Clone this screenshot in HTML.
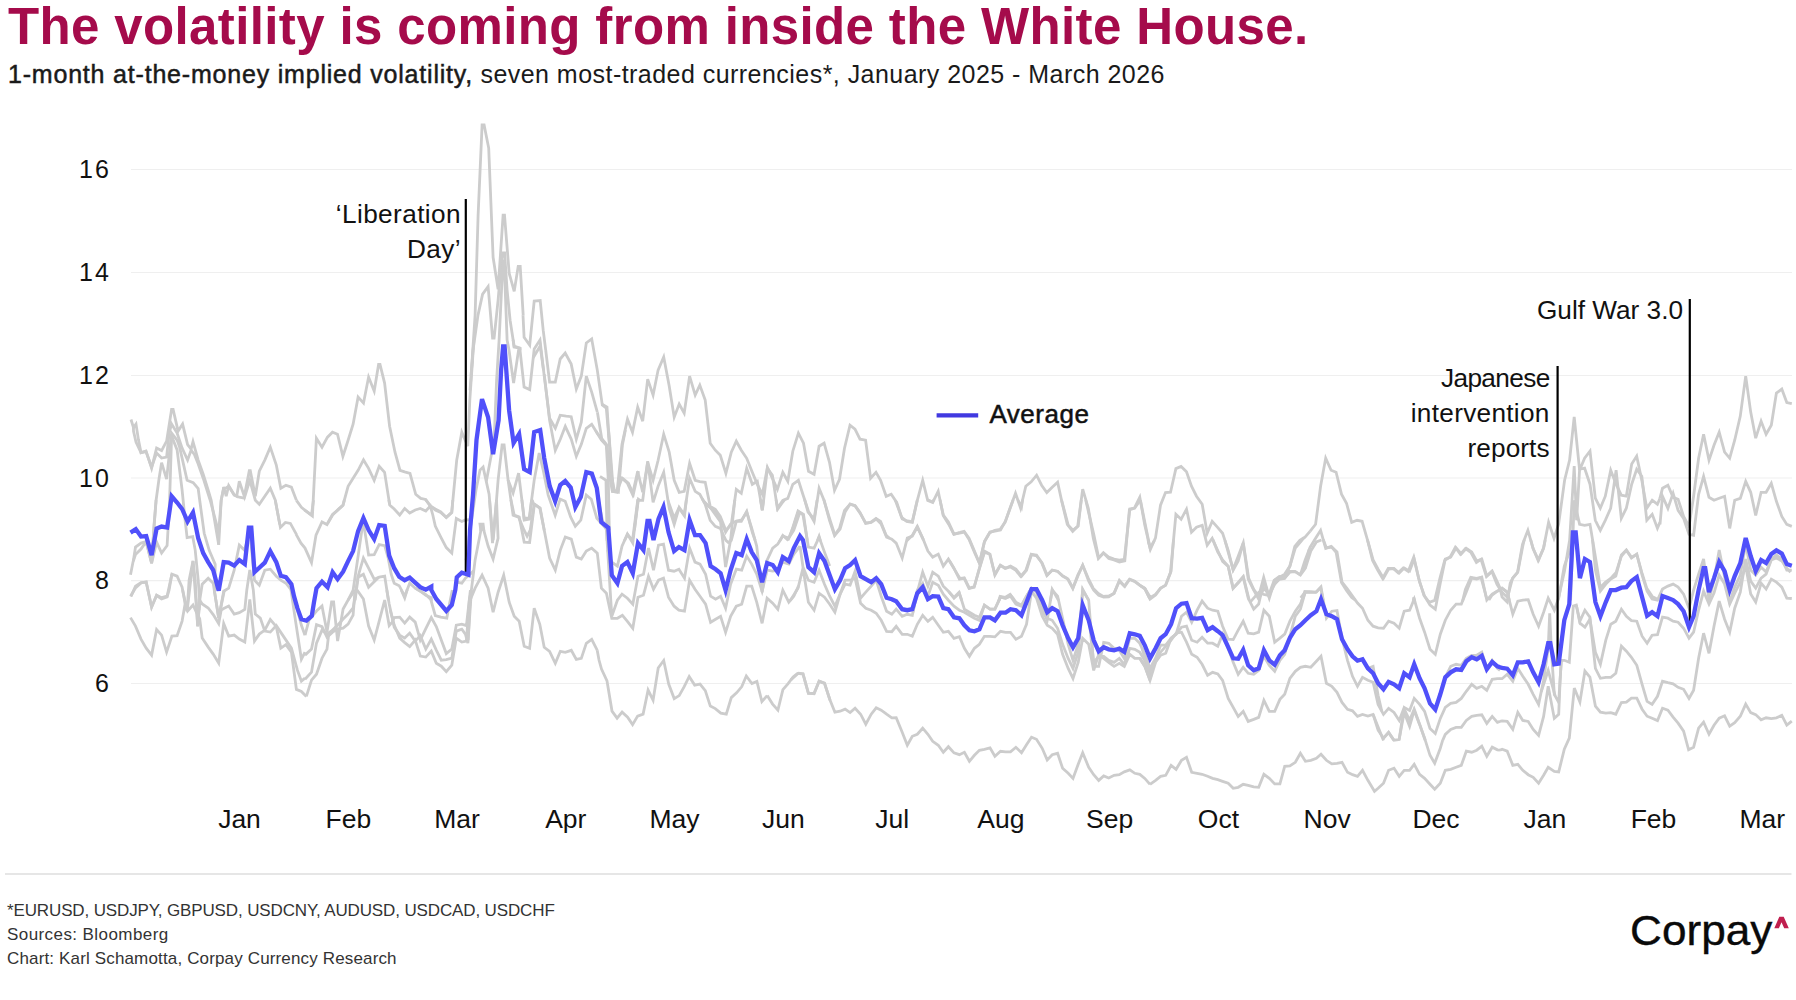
<!DOCTYPE html>
<html><head><meta charset="utf-8">
<style>
html,body{margin:0;padding:0;background:#fff;overflow:hidden;width:1796px;height:1000px;}
body{width:1796px;height:1000px;position:relative;overflow:hidden;font-family:"Liberation Sans",sans-serif;color:#111;}
.abs{position:absolute;white-space:nowrap;line-height:1;}
#title{left:8px;top:0.5px;font-size:51px;font-weight:bold;color:#a50b4b;letter-spacing:0.37px;}
#sub{left:8px;top:61.5px;font-size:25px;color:#1a1a1a;letter-spacing:0.46px;}
#sub b{font-weight:normal;-webkit-text-stroke:0.5px #1a1a1a;letter-spacing:0.8px;}
.yl{width:60px;text-align:right;left:50.8px;font-size:25px;letter-spacing:2px;}
.xl{width:100px;text-align:center;font-size:26.5px;top:805.5px;margin-left:1px;}
.ann{text-align:right;font-size:26.2px;line-height:35px;}
.foot{left:7px;font-size:17px;color:#333;}
#logo{left:1629.5px;top:910.2px;font-size:42px;color:#0a0a0a;letter-spacing:0;transform:scaleX(1.052);transform-origin:0 0;-webkit-text-stroke:0.35px #0a0a0a;}
svg{position:absolute;left:0;top:0;}
</style></head><body>
<div id="title" class="abs">The volatility is coming from inside the White House.</div>
<div id="sub" class="abs"><b>1-month at-the-money implied volatility,</b> seven most-traded currencies*, January 2025 - March 2026</div>

<svg width="1796" height="1000" viewBox="0 0 1796 1000">
<g stroke="#efefef" stroke-width="1.2">
<line x1="131" x2="1792" y1="169.5" y2="169.5"/>
<line x1="131" x2="1792" y1="272.5" y2="272.5"/>
<line x1="131" x2="1792" y1="375.5" y2="375.5"/>
<line x1="131" x2="1792" y1="478" y2="478"/>
<line x1="131" x2="1792" y1="580.7" y2="580.7"/>
<line x1="131" x2="1792" y1="683.5" y2="683.5"/>
</g>
<line x1="5" x2="1791.5" y1="874" y2="874" stroke="#dedede" stroke-width="1.3"/>
<g fill="none" stroke="#cccccc" stroke-width="2.8" stroke-linejoin="miter" stroke-linecap="butt">
<polyline points="131,419.5 133.5,427.6 136,424.1 138.5,440.1 141,452.6 146,451.1 151.6,468.2 156.6,448.1 161.6,450.6 166.6,441.1 171.6,409.5 173.1,409.5 178.1,431.1 182.6,424.1 187.6,444.6 191.1,449.1 193,441.6 198.2,460.1 203.2,474.2 208.2,490.2 211.2,500.2 218.7,544.8"/>
<polyline points="133.5,427.6 133.5,431.1 136,442.1 141,452.6 146,451.6 151.6,467.1 156.6,453.1 161.6,458.1 166.6,457.1 169.1,433.1 171.6,424.1 177.1,433.1 182.1,448.1 187.6,460.1 191.1,450.1 194.2,454.1 198.2,464.1 203.2,478.2 208.2,494.2 210.2,500.2 218.7,532.3"/>
<polyline points="151.6,563.4 154.1,525.3 156.1,500.2 159.1,478.2 161.6,462.6 166.6,479.2 169.1,456.1 171.6,433.1 177.1,440.1 179.6,447.1 182.1,458.1 187.1,480.2 193.2,482.7 198.2,488.7 199.7,500.2 204.2,533.3 209.2,550.3 215.2,564.4 214.8,591"/>
<polyline points="133.3,561.1 135.5,547.1 141,543.1 146.2,541.6 151.6,563.1 154.1,525.1 156.1,500.1"/>
<polyline points="130.5,574.7 133,562.1 135.5,554.6 141,549.1 145,543.1 146.2,542.1 151.6,563.1 156.6,542.1 161.6,553.1 167.1,545.6 168.6,520 169.6,500 171.6,435.9"/>
<polyline points="171.6,435.9 177.1,449.9 182.1,490 185.1,520 187.1,537.6 192.7,536.6 195.2,550.1 198.2,580.2 199.7,600.2 199,610"/>
<polyline points="131,596.5 135.5,586.2 141,582.7 146.2,582.2 151.6,607.2 156.6,595.2 161.6,597.7 167.1,596.2 171.9,574.2 177.1,576.2 182.1,587.2 185.1,603.2 187.1,611.2 189.1,580.2 193,561.1 195.2,580.2 197.7,626.3 199.7,600.2 202.2,584.2 208.2,578.2 213.2,583.2 218.7,618.3 223.7,591.2 228.7,588.2 234.2,570.2 239.3,545.1 244.3,550.1 246.8,542.1 249.8,530.1 254.5,580.2 259.3,585.2 264.8,570.2 270.3,569.2 276.3,576.2 280.8,580.2 285.9,583.2 291.4,590.2 296.4,606.2 301.4,625.3 305,635.3"/>
<polyline points="218.7,544.8 221.2,500.2 223.7,487.2 226.2,496.2 228.7,485.7 234.2,494.7 236.7,496.2 239.3,481.2 244.3,496.2 249.3,470.7 250.3,470.7 255.3,496.2 259.3,471.2 264.8,460.1 270.3,447.1 276.3,465.1 280.8,488.2 285.9,485.2 291.4,487.2 296.4,500.2"/>
<polyline points="218.7,532.3 221.2,500.2 223.7,488.2 225.7,488.2 228.7,486.2 234.2,495.2 239.3,497.2 244.3,498.2 246.8,490.2 249.8,480.2 255.3,500.2 259.3,504.2 264.8,496.2 270.3,488.2 275.3,500.2 279.8,524.5"/>
<polyline points="130.5,617.6 135.5,626.1 141,639.1 146.2,648.1 151.6,655.1 156.6,629.6 161.6,635.1 166.6,652.1 171.9,636.1 177.1,635.6 182.1,621.1 185.1,604 187.6,611 193,605 196.2,612 199.7,618.6 202.2,638.1 208.2,647.1 213.2,654.1 218.7,663.2 223.7,623.6 228.7,636.1 234.2,635.1 239.3,639.1 244.8,642.1 249.8,599.5 254.5,641.1 259.3,634.1 264.8,630.1 270.3,619.6 276.3,626.6 280.8,648.1 285.9,644.6 291.4,652.1 296.4,689.4 301.4,691.4 306.4,696.4"/>
<polyline points="130.5,596.2 135.5,588 141,583 146.2,582 151.6,607 156.6,595.5 161.6,599 167.1,597 169.1,590 171.9,574"/>
<polyline points="182.6,589.9 187.1,611 193,560.9 197.7,626.1 199.7,600 202.2,604 208.2,608 213.2,614.6 218.7,623.6 221.2,610 223.7,608.5 228.7,606 234.2,614.1 239.3,612.6 244.8,609.5 246.8,590 249.8,570 253.3,590 255.3,614.1 260.3,618.1 264.8,631.1 270.3,632.1 276.3,625.6 281.3,633.1 291.4,648.1 297.4,670.2 301.4,681.2 305,678.2"/>
<polyline points="214.3,590.1 218.7,618.1 224.2,590.9"/>
<polyline points="290.9,589.6 295.4,620.1 301.4,659.2 305,652.1"/>
<polyline points="304.4,509.8 311.5,515 313.5,500"/>
<polyline points="296,534.1 301,543.1 305,548.1 311.5,562.6 316,535.1 322,522 327,524.6 332.6,515 337.6,510 343.1,505 344.4,499.8"/>
<polyline points="388.9,499.9 389.7,505 394.2,509 399.7,515 404.7,508.5 409.7,513 415.2,510 420.3,508.5 425.8,511 430.3,506 432.8,515 435.3,526.1 440.8,537.1 446.3,547.6 451.8,553.1 456.3,518.5 461.8,521.5 465.4,520 471.6,519.6"/>
<polyline points="425.4,499.3 430.3,506 435.3,509 440.8,512 446.3,517.5 451.8,512.5 452.8,500"/>
<polyline points="348.1,600.2 353.1,590.2 358.1,556.1 362.6,525.1 363.4,523.1 366.1,539.1 368.6,555.1 374.2,554.6 379.2,544.6 384.7,545.6 388.2,558.1 391.2,574.2 394.2,583.2 399.2,585.7 404.7,596.2 409.7,583.2 415.2,588.2 420.3,591.2 425.8,595.2 431.3,597.7 431.3,601.3"/>
<polyline points="354.3,600.3 358.1,576.2 363.4,558.1 368.6,568.2 374.2,579.2 379.2,577.2 384.7,576.2 387.2,592.2 388.4,600.4"/>
<polyline points="355.1,600.2 358.1,577.2 363.4,574.2 368.6,587.2 374.2,581.7 378.5,577.5"/>
<polyline points="456.8,582.2 461.8,583.2 465.4,578.2 473.8,570.9"/>
<polyline points="305,635.1 309,620.1 316.5,611 322,606 327,632.1 331.6,602 333.6,602 337.6,641.1 343.1,609 348.1,600 355.1,590"/>
<polyline points="305,655.1 311.5,649.1 316.5,624.6 322,626.6 327,637.1 332.6,632.1 337.6,629.1 343.1,628.1 348.1,624.1 353.1,615.1 355.1,590"/>
<polyline points="305,679.2 311.5,672.2 316.5,643.1 322,630.1 327,634.1 332.6,630.1 337.6,625.1 343.1,619.1 348.1,614.1 353.1,608 356.4,589.9"/>
<polyline points="306.4,696.4 311.5,680.2 316.5,674.2 322,658.2 327,649.1 328.6,635.1 332.6,630.1"/>
<polyline points="357.1,590 363.4,599 368.6,626.1 374.2,640.1 379.2,621.1 384.7,600 386.2,609 389.2,625.6 392.2,622.1 394.2,617.6 399.7,617.1 404.7,623.1 409.7,617.1 415.2,622.1 420.3,640.1 425.8,628.6 431.3,617.6 436.3,626.6 446.3,653.6 451.8,649.1 456.3,625.1 461.8,624.1 466.4,625.6 470.4,590.1"/>
<polyline points="386.8,589.9 389.2,604 394.2,627.1 399.7,635.1 404.7,638.1 409.7,633.1 415.2,641.1 420.3,635.6 425.8,649.1 431.3,639.1 436.3,650.1 441.3,660.2 446.3,659.7 451.8,658.2 456.3,631.1 461.8,629.1 465.4,634.1 467.9,643.1 471.4,590.1"/>
<polyline points="390.2,610 394.2,625.1 399.7,638.1 404.7,642.6 409.7,646.6 415.2,640.1 420.3,656.1 425.8,657.1 431.3,651.1 436.3,663.2 441.3,666.2 446.3,671.7 451.8,665.2 456.3,638.1 461.8,642.1 466.4,641.1 469.4,600 471.4,590"/>
<polyline points="401.2,590 404.7,598 407.2,589.6"/>
<polyline points="415.2,588 420.3,591 425.8,594.5 430.8,599.5 435.3,615.6 440.8,617.1 446.8,618.1 449.3,605 452.3,590"/>
<polyline points="296.4,500.4 301.4,507.4 306.4,511.4 312.4,516 316.4,438.2 322,447.2 327.5,437.2 332.5,432.2 337.5,434.2 342.9,456.3 348.1,440.2 353.1,424.2 358.1,397.1 363.5,403.1 368.6,377.1 374.2,391.1 378.6,364.5 380,364.5 384.6,383.1 389.6,426.2 395,452.2 400,470.3 404.6,471.9 410,473.3 415.7,494.3 420.7,498.4 425.7,499.4 430.7,506.4 435.7,510.4 440.7,512.4 446.3,517.4 451.7,512.4 456.7,460.3 461.8,432.2 465.2,440.2 467.8,446.2"/>
<polyline points="275.3,500.4 280.4,527.4 285.4,522.4 290.4,523.4 296.4,534.4"/>
<polyline points="327.5,523.4 332.5,514.4 337.5,510.4 342.9,505.4 348.1,486.3 353.1,478.3 358.1,470.3 363.5,459.9 368.6,468.3 374.2,480.3 379.2,466.3 384.6,472.3 389.6,504.4"/>
<polyline points="467.8,446.2 469.8,400.1 473.9,340.1"/>
<polyline points="471.1,375.5 475.1,315.4 478.1,215.2 482.1,125 484.1,125 488.7,148.1 493.1,257.3 498.1,289.4 503.1,215.2 504.5,215.2 509.2,273.4 514.2,291.4 518.2,266.3 520.2,266.3 523.2,315.4"/>
<polyline points="523,315.3 524.1,337.2 529.7,345.2 534.2,301.1 540.2,300.6 543.2,330.2 545.7,350.2"/>
<polyline points="470,390.3 473,350.2 478,315.1 482.6,294.1 488.1,286.6 492.6,338.2 494.1,338.2 498.1,300.1 501.1,265 502.6,253 504.6,253 507.1,290.1 510.1,320.2 514.1,346.2 520.1,348.2 520,350.3"/>
<polyline points="513.1,339.7 514.1,347 519.8,348.2 524.1,387.1 529.7,389.6 534.2,349 540,340 544,374.1 549.6,418.2 555.3,428.2 560.2,415.2 566.2,416.2 571.2,416.7 576.3,439.2 581.3,422.2 586.3,376.1 591.7,392.1 597.3,412.2"/>
<polyline points="545.7,350 549.6,382.1 555.3,382.1 560.2,359 565.2,353 571.2,364.1 576.3,389.1 581.3,376.1 586.3,343 591.7,339 597.3,370.1 602.3,405.1 606.3,408.2 609.6,446.2"/>
<polyline points="486.3,481.6 494.1,440.2 496.6,380.1 499.1,340 501.3,294.9 502.9,261 504.1,261 505.6,299.9 507.1,340 509,350 513.6,383.1 518.6,350 519.8,348.2"/>
<polyline points="533.2,357.8 540.2,346 543.5,370.1"/>
<polyline points="466,560.3 470,530.2 476,490.1 480,470.1 483.1,467.1 489.1,494.1 492.1,530.2 493.1,540.2 494.1,530.2 498.1,480.1 502.1,445 504.1,445 508.1,480.1 513.1,493.1 518.6,473.1 524.1,518.2 529.2,518.2 534.2,480.1 539.2,453.1 543.2,470.1 548.2,495.1 555.2,515.2 560.2,499.2 565.2,501.2 570.7,517.2 575.3,526.2 580.8,520.2 586.3,495.1 591.3,499.2 596.8,518.2 605.6,528.1"/>
<polyline points="480.8,530.9 480,524.2 483.1,524.2 483.9,530.8"/>
<polyline points="508.1,480.1 513.1,515.2 518.6,517.2 524.1,530.2 527.1,536.2 530.2,530.2 534.2,504.2 540.2,508.2 544.3,530.4"/>
<polyline points="544.2,374.2 549.6,420.3 555.3,450.4 560.3,439.3 565.3,426.3 571.3,439.3 576.3,456.4 581.3,444.3 586.3,428.3 591.7,424.3 597.3,433.3 602.4,439.3 606.4,444.3 610.4,470.4 614.4,490.4"/>
<polyline points="595.8,430.9 601.3,440 606.3,445 608.3,480.1 609.3,530.3"/>
<polyline points="608.6,430.2 613.3,490.1 618.4,492.1 622.4,445 625.4,430"/>
<polyline points="618.2,480.3 622.4,478.1 628.4,483.1 633.4,494.1 638.4,471.1 638,472.6"/>
<polyline points="634.4,530.2 638.4,499.2 640,500.4"/>
<polyline points="467.1,640.3 470.1,600.2 475.1,588.2 482.1,575.2 488.1,588.2 493.1,612.2 498.1,592.2 503.7,575.2 509.2,602.2 514.2,616.3 519.2,621.3 524.2,646.3 529.6,648.3 534.2,608.2 539.8,624.3 544.2,647.3 549.6,651.3 555.3,663.4 560.3,651.3 565.3,652.3 571.3,650.3 576.3,659.4 581.3,658.4 586.3,643.3 591.7,639.3 597.3,650.3"/>
<polyline points="597.2,650.3 599,660 601.5,669 607,681 612,711.1 617.1,718.1 622.1,712.1 627.6,717.1 632.6,724.6 637.6,716.1 643.1,714.1 648.1,690.1 653.1,700.1 658.2,668 663.7,660.5 668.7,684.1 674.2,698.6 679.2,695.6 684.2,686.6 689.2,676.5 694.7,685.1 700,684.1 705.3,690.6 710.3,706.1 715.3,708.6 720.8,713.1 726.3,714.1 731.3,697.6 736.8,692.6 741.8,686.6 746.3,676 751.9,683.6 756.9,681.5 761.9,701.6 767.2,695.6"/>
<polyline points="767.2,695.6 772.6,704.1 777.9,710.1 782.9,689.6 788.1,683.6 793.1,677 798.1,673"/>
<polyline points="468.1,640.3 470.1,600.2 475.1,560.1 482.1,524.1 488.1,546.1 493.1,559.1 498.1,538.1 496.5,499.8"/>
<polyline points="489.6,500 492.5,543.1 496.5,500.1"/>
<polyline points="510.9,499.8 514.2,515 519.2,517 524.2,542.1 529.6,542.5 534.2,506 532.2,500"/>
<polyline points="521.9,499.8 524.2,520 529.6,519 531.6,499.9"/>
<polyline points="534.2,504 539.8,508 544.2,530.1 549.6,558.1 555.3,570.2 560.3,550.1 565.3,537.1 571.3,539.1 576.3,557.1 581.3,559.1 586.3,551.1 591.7,548.1 597.3,553.1 601.4,588.2 606.4,593.2 611.8,618.3 617.4,618.3 622.4,615.3 627.4,621.3 632.8,628.3 638,597.2 643.5,595.2 648.5,576.2 653.5,589.2 658.5,580.2 663.5,578.2 668.5,597.2 674.1,606.2 678.9,610.2 684.5,611.2 689.6,580.2 695,589.2 700,596.2 705.6,604.2 710.6,622.3 715.6,619.3 720.6,616.3 725.6,632.3 730.6,616.3 736.3,606.2 741.7,604.2 746.7,586.2 751.7,586.2 756.7,602.2 762.1,623.3 767.1,598.2 772.7,603.2 777.8,609.2 782.8,590.2 788.8,602.2 793.8,596.2 798.6,585.8"/>
<polyline points="598.4,500 602.4,520 606.4,530.1 611.8,616.3 617.4,600.2 622,594.2 627.4,598.2 632.8,604.2 638,576.2 643.5,574.2 648.5,548.1 653.5,570.2 658.5,545.1 663.5,544.1 668.5,570.2 674.1,571.2 678.9,569.2 684.5,578.2 689.6,548.1 695,562.1 700,564.1 705.6,574.2 710.6,596.2 715.6,599.2 720.6,596.2 725.6,608.2 730.6,584.2 736.3,569.2 741.7,570.2 746.7,556.1 751.7,564.1 756.7,574.2 762.1,591.2 767.1,570.2 772.7,571.2 777.8,570.2 782.8,562.1 788.8,564.1 793.8,554.1 800,546.1"/>
<polyline points="607.7,550.1 611.8,562.1 617.4,566.1 622,546.1 627.4,534.1 632.8,543.1 638,500"/>
<polyline points="667.9,500.1 674.1,518 678.9,508 684.5,516 686.4,499.5"/>
<polyline points="702.2,498.8 705.6,504 710.6,508 715.6,512 720.6,520 725.6,532.1 730.6,524.1 736.3,521 741.7,520 746.7,512 751.7,528.1 756.7,546.1 762.1,592.2 767.1,560.1 772.7,548.1 777.8,544.1 782.8,536.1 788.8,538.1 793.8,530.1 800,512"/>
<polyline points="703.5,501.1 710.6,508 720.6,522 725.6,567.1 730.6,540.1 734.8,499.8"/>
<polyline points="760.5,499.7 762.1,510 763.7,499.8"/>
<polyline points="776.1,499.8 777.8,509 782.8,502 784.7,499.7"/>
<polyline points="602,404.1 607,407.1 610,452.2 612.4,491.3 617,492.3 622,444.2 627.5,419.2 632.5,432.2 637.7,407.1 642.7,421.2 647.7,379.1 653.1,395.1 658.1,370.1 663.7,357 669.2,386.1 674.2,417.2 679.2,404.1 684.2,413.2 689.6,376.1 695.2,395.1 699.8,385.1 705.2,400.1 710.2,443.2 715.3,450.2 720.3,455.3 725.9,473.3 731.3,452.2 736.3,441.2 741.3,450.2 746.7,458.3 752.3,472.3 757.3,484.3 762.4,494.3 767.4,467.3 772.4,478.3 777.4,489.3 782.8,472.3 787.8,481.3 792.8,451.2 798.4,433.2 803.5,443.2 808.5,471.3 814.1,474.3 819.1,446.2 824.1,443.2 829.5,462.3 834.5,490.3 839.5,479.3 844.5,448.2 850,425.2 855,429.2 860,439.2 865.6,440.2 870.6,478.3 876,472.3 880.6,480.3 886.2,496.3 891.2,494.3 896.7,502.4 901.7,517.4 906.7,521.4 912.3,522.4 917.3,500.4 922.7,480.3 927.7,500.4 932.7,502.4 938.2,491.3 943.2,515.4 948.8,524.4 953.8,534.4 960,532.4"/>
<polyline points="597.4,412.2 602,440.2 607,446.2 610,478.3 612.4,491.3 617,491.3 622,478.3 627.5,483.3 632.5,494.3 637.7,471.3 642.7,492.3 647.7,462.3 653.1,480.3 658.1,460.3 663.7,434.2 669.2,452.2 674.2,480.3 679.2,492.3 684.2,491.3 689.6,463.3 695.2,480.3 699.8,481.7 705.2,482.3 710.2,506.4 715.3,509.4 720.3,516.4 725.9,530.4 731.3,524.4 736.3,489.3 741.3,493.3 746.7,468.3 752.3,484.3 757.3,481.3 762.4,510.4 767.4,468.3 772.4,475.3 777.4,508.4 782.8,500.4 787.8,498.4 792.8,484.3 798.4,480.3 803.5,496.3 808.5,511.4 814.1,521.4 819.1,488.3 824.1,500.4 829.5,520.4 834.5,535.4 839.5,528.4 844.5,510.4 850,504.4 855,505.4 860,512.4 865.6,523.4 870.6,522.4 876,518.4 880.6,521.4 886.2,535.4 889.4,538.2"/>
<polyline points="600,476.3 606,480.3 607.1,540.6"/>
<polyline points="624.5,540.6 627.5,534.4 632.5,540.4 637.7,500.4 642.7,500.4 647.7,461.3 653.1,502.4 658.1,486.3 663.7,472.3 669.2,508.4 674.2,524.4 679.2,507.4 684.2,514.4 689.6,478.3 695.2,491.3 699.8,494.3 705.2,504.4 710.2,520.4 715.3,526.4 720.3,528.4 725.9,540.4 728.3,542.4 731.3,540.4 736.3,521.4 741.3,521.4 746.7,511.4 752.3,532.4 755.1,540.2"/>
<polyline points="779.4,541.6 782.8,535.4 788.4,540.4"/>
<polyline points="787.8,540.4 792.8,528.4 798.4,511.4 803.5,514.4 807.3,540.6"/>
<polyline points="817.4,540.8 819.1,536.4 820.5,541.1"/>
<polyline points="906.6,540.9 912.3,535.4 917.3,526.4 923.5,540.1"/>
<polyline points="804.5,499.2 808,512 814.1,519 817.1,500"/>
<polyline points="823.8,499.7 829.7,519 834.9,535.1 840.1,529.1 845.1,512 850.1,504 855.1,506 860.6,514 865.8,523.1 871.2,522.4 876.2,519 881.2,524.1 886.6,537.1 891.8,539.1 896.2,543.1 902.2,558.1 907.3,538.1 912.3,536.1 917.3,527.1 922.7,538.1 927.9,551.1 932.7,557.1 938.3,554.1 943.3,566.1 948.4,559.1 954,568.2 959.4,579.2 964.4,578.2 969.4,588.2 974.4,586.2 979.4,568.2 984.4,551.1 990,554.1 994.9,575.2 1000.5,565.1 1005.5,568.2 1010.5,566.1 1015.9,569.2 1021.5,576.2 1026.5,570.2 1031.5,554.5 1036.5,555.1 1042.2,563.1 1047.2,575.2 1052.2,570.2 1057.6,571.2 1062.6,576.2 1068.2,579.2 1073,588.2 1078.2,575.2 1082.7,565.1 1088.7,581.2 1093.7,590.2 1098.7,595.2 1103.7,597.2 1108.7,596.8 1114.1,593.2 1119.3,581.2 1124.3,586.2 1129.8,579.2 1134.8,581.2 1139.8,585.2 1144.8,588.2 1149.6,598.4"/>
<polyline points="895.4,500.5 902.2,519 907.3,521 912.3,521.6 917.3,500"/>
<polyline points="927.5,499.7 932.7,502 934,499.8"/>
<polyline points="940,499.9 943.3,515 948.4,522 954,534.1 959.4,533.1 964.4,532.1 969.4,540.1 974.4,552.1 979.4,563.1 984.4,542.1 990,532.1 994.9,531.1 1000.5,530.1 1005.5,521 1010.5,507 1013.1,499.9"/>
<polyline points="1017.9,500.2 1021.5,507 1022.6,499.8"/>
<polyline points="1061.5,499.8 1068.2,525.1 1073,530.1 1078.2,526.1 1081.3,499.8"/>
<polyline points="1085.7,500 1093.7,534.1 1098.7,558.1 1103.7,553.1 1108.7,557.1 1114.1,559.1 1119.3,560.1 1124.3,559.5 1129.8,509 1134.8,508 1140.3,499.9"/>
<polyline points="1140.4,500.4 1149.7,546.2"/>
<polyline points="790.6,534.3 798,511 803,515 808.4,547.1 814.1,548.1 819.1,537.1 824.5,552.1 829.7,566.1"/>
<polyline points="800,546.1 803,567.1 808.4,580.2 814.1,582.2 819.1,570.2 824.5,584.2 829.7,596.2 834.9,606.2 840.1,594.2 845.1,584.2 850.1,585.2 855.1,571.2 860.6,598.2 865.8,592.2 871.2,586.2 876.2,580.2 881.2,596.2 886.6,611.2 891.8,614.3 896.2,609.2 902.2,616.3 907.3,614.3 912.3,615.3 917.3,592.2 922.7,572.2 927.9,586.2 932.7,572.2 938.3,576.2 943.3,586.2 948.4,591.2 954,598.2 959.4,593.2 964.4,609.2 969.4,612.2 974.4,615.3 979.4,617.3 984.4,605.2 990,609.2 994.9,609.2 1000.5,597.2 1005.5,598.2 1010.5,595.2 1015.9,602.2 1021.5,605.2 1026.5,596.2 1031.5,588.2 1036.5,590.2 1042.2,608.2 1047.2,620.3 1052.2,590.2 1057.6,596.2 1062.6,618.3 1068.2,644.3 1073,660.4 1078.2,644.3 1082.7,590.2 1088.7,600.2 1093.7,666.4 1098.7,666.4 1103.7,642.3 1108.7,643.3 1114.1,648.3 1119.3,650.3 1124.3,658.4 1129.8,638.3 1134.8,638.3 1139.8,643.3 1144.8,654.3 1150.8,670.8"/>
<polyline points="790.3,600.4 798,588.2 803,568.2 808.4,602.2 814.1,610.2 819.1,593.2 824.5,597.2 829.7,604.2 834.9,612.2 840.1,594.2 845.1,580.2 850.1,580.2 855.1,578.2 860.6,603.2 865.8,608.2 871.2,610.2 876.2,613.3 881.2,620.3 886.6,631.3 891.8,631.7 896.2,626.3 902.2,634.3 907.3,634.3 912.3,636.3 917.3,624.3 922.7,615.3 927.9,621.3 932.7,617.3 938.3,625.3 943.3,632.3 948.4,631.3 954,638.3 959.4,636.7 964.4,648.3 969.4,656.3 974.4,648.3 979.4,644.3 984.4,636.3 990,636.3 994.9,636.9 1000.5,631.3 1005.5,632.3 1010.5,632.3 1015.9,639.3 1021.5,636.3 1026.5,624.3 1031.5,591.2 1036.5,598.2 1042.2,616.3 1047.2,625.3 1052.2,628.3 1057.6,634.3 1062.6,654.3 1068.2,668.4 1073,678.4 1078.2,662.4 1082.7,638.3 1088.7,644.3 1093.7,670.4 1098.7,654.3 1103.7,658.4 1108.7,662.4 1114.1,666.4 1119.3,663.4 1124.3,666.4 1129.8,654.3 1134.8,658.4 1139.8,658.4 1144.8,666.4 1150,680.3"/>
<polyline points="912.9,612.3 917.3,590.2 922.7,583.2 927.9,596.2 932.7,582.2 938.3,585.2 943.3,594.2 948.4,600.2 954,606.2 959.4,610.2 964.4,612.2 969.4,615.3 974.4,618.3 979.4,620.3 984.4,605.2 990,609.2 994.9,609.2 1000.5,597.2 1005.5,598.2 1010.5,596.2 1015.9,604.2 1021.5,606.2 1026.5,596.2 1031.5,588.2 1036.5,592.2 1042.2,612.2 1047.2,618.3 1052.2,620.3 1057.6,628.3 1062.6,644.3 1068.2,658.4 1073,668.4 1078.2,652.3 1082.7,608.2 1088.7,616.3 1093.7,662.4 1098.7,656.3 1103.7,656.3 1108.7,660.4 1114.1,662.4 1119.3,658.4 1124.3,664.4 1129.8,648.3 1134.8,649.3 1139.8,652.3 1144.8,660.4 1151.1,676.7"/>
<polyline points="790.8,680 798,673.4 803,674 808.4,693.4 814.1,693.4 819.1,681.4 824.5,683.4 830.1,700.2"/>
<polyline points="798,673.1 803,673.7 808.4,693.2 814.1,693.8 819.1,681.1 824.5,683.1 829.7,699.2 834.9,712.2 840.1,711.2 845.1,709.2 850.1,712.6 855.1,708.2 860.6,714.2 865.8,724.2 871.2,714.2 876.2,707.8 881.2,710.2 886.6,714.2 891.8,717.8 896.2,717.6 902.2,732.2 907.3,745.3 912.3,736.3 917.3,734.3 922.7,728.2 927.9,734.3 932.7,741.3 938.3,745.3 943.3,752.3 948.4,746.7 954,752.9 959.4,754.7 964.4,752.3 969.4,761.3 974.4,755.3 979.4,750.3 984.4,749.3 990,747.9 994.9,756.3 1000.5,751.3 1005.5,751.9 1010.5,751.9 1015.9,747.3 1021.5,752.7 1026.5,744.7 1031.5,737.3 1036.5,739.3 1042.2,748.3 1047.2,759.9 1052.2,754.7 1057.6,753.3 1062.6,768.3 1068.2,773.3 1073,778.4 1078.2,764.3 1082.7,752.7 1088.7,767.3 1093.7,774.7 1098.7,780.4 1103.7,775.9 1108.7,778 1114.1,775.3 1119.3,774.7 1124.3,771.9 1129.8,769.9 1134.8,773.3 1139.8,774.3 1144.8,778.4 1150,784.4"/>
<polyline points="960,532.3 964,531.3 969,538.3 974.1,550.3 979.5,563.4 984.5,541.3 989.7,532.7 994.9,530.3 1000.1,529.3 1005.1,522.3 1010.1,508.2 1015.5,493.2 1020.6,508.2 1025.8,486.2 1031.2,481.8 1036.6,475.2 1041.6,485.2 1046.8,492.6 1052.2,487.2 1057.6,482.2 1062.2,503.2 1067.3,524.3 1072.7,531.3 1077.7,526.3 1082.7,489.2 1088.3,508.2 1093.3,538.3 1098.3,558.4 1103.3,552.7 1108.8,558.4 1114,560 1119.4,562 1124.8,560.8 1129.4,509.8 1134.4,508.2 1139.8,497.2 1144.8,525.3 1150.4,549.3 1155.5,537.9 1160.5,505.2 1165.5,492.6 1170.5,492.2 1175.9,468.6 1181.1,466.5 1186.5,471.8 1191.5,486.2 1196.5,496.2 1202.2,504.2 1207.2,533.3 1212.2,521.3 1217.6,527.3 1222.6,533.3 1228.2,550.3 1233,569.4 1238.2,556.3 1243.3,542.7 1248.7,578.4 1253.7,589.4 1258.7,596.4 1263.7,577.4 1268.7,595.4 1274.1,580.4 1279.3,576.4 1284.3,577.4 1289.8,566.4 1294.8,546.3 1299.8,540.3 1304.8,537.3 1310,531.3"/>
<polyline points="949.4,560.8 955,570.4 960,578.4 964,578 969,588.4 974.1,587.4 979.5,568.4 984.5,552.3 989.7,554.3 994.9,574.4 1000.1,565.4 1005.1,568.4 1010.1,566.8 1015.5,570 1020.6,576.4 1025.8,570.4 1031.2,554.3 1036.6,555.9 1041.6,562.4 1046.8,575.4 1052.2,570 1057.6,571.4 1062.2,575.4 1067.3,578.4 1072.7,588.4 1077.7,575.4 1082.7,565.4 1088.3,578.4 1093.3,588.4 1098.3,593.4 1103.3,596.4 1108.8,596 1114,593.4 1119.4,580.4 1124.8,586.4 1129.4,579.4 1134.4,581.4 1139.8,585.4 1144.8,588.4 1150.4,597.4 1155.5,594.4 1160.5,588.4 1165.5,585.4 1170.5,572.4 1175.9,514.3 1181.1,519.3 1186.5,509.2 1191.5,532.3 1196.5,527.3 1202.2,525.3 1207.2,545.3 1212.2,538.3 1217.6,550.3 1222.6,561.4 1228.2,566.4 1233,588.4 1238.2,582.4 1243.3,576.4 1249.2,600.1"/>
<polyline points="948.6,591.5 954,597.4 959,592.4 961.6,600.2"/>
<polyline points="998.5,601.5 1000.1,596.4 1005.1,597.4 1010.1,594.4 1014.4,600.2"/>
<polyline points="1050.4,600.8 1052.2,589.4 1056.2,596.4 1058.6,600.5"/>
<polyline points="1081.8,600.5 1082.7,589.4 1088.7,600.4"/>
<polyline points="1250.2,602.1 1258.7,592.4 1263.7,594.4 1268.7,595.4 1274.1,584.4 1279.3,579.4 1284.3,578.4 1289.8,571.4 1294.8,571.4 1299.8,574.4 1304.8,568.4 1309.3,549"/>
<polyline points="1301.5,601.5 1304.8,591.4 1310.1,591.8"/>
<polyline points="1140.3,585.7 1145,589.1 1150,599.1 1155.6,595.1 1160.6,588.1 1165.7,585.1 1171.1,571.1 1173.5,539.9"/>
<polyline points="1148,540 1150,548 1154.3,540.6"/>
<polyline points="1212.9,539.9 1217.8,552 1222.6,560 1228.2,566.1 1233.2,588.1 1238.2,583.1 1243.2,577.1 1248.2,598.1 1253.7,609.2 1258.7,604.1 1263.9,581.1 1269.3,598.1 1274.7,580.1 1279.9,577.1 1284.7,578.1 1289.9,572.1 1295.3,571.7 1300.4,575.1 1305.4,568.1 1310.8,551 1316.4,542 1321.4,540"/>
<polyline points="1224.9,540.4 1233.2,570.1 1238.2,561 1243.2,543 1248.2,579.1 1253.7,590.1 1258.7,599.1 1263.9,588.1 1269.3,595.1 1274.7,584.1 1279.9,577.1 1284.7,574.1 1289.9,566.1 1295.3,548 1300.4,542 1304,537.7"/>
<polyline points="1323.2,539.5 1326.4,548 1331.8,547 1337,552 1342,582.1 1347.5,589.1 1352.5,596.1 1357.5,603.1 1362.5,608.2 1367.9,620.2 1373.1,626.2 1378.1,627.8 1383.5,628.2 1388.6,621.2 1394,623.2 1399.2,628.2 1404.2,611.2 1409.6,610.2 1414.2,599.1 1419.6,618.2 1424.6,632.2 1430,649.2 1435.3,654.3 1440.3,634.2 1445.3,620.2 1450.7,610.2 1456.1,604.1 1461.3,604.1 1466.3,592.1 1471.7,578.1 1476.7,579.1 1481.8,577.1 1486.8,600.1 1492.2,594.1 1497.4,591.1 1500,590.1"/>
<polyline points="1367.4,539.7 1373.1,560 1378.1,569.1 1383.5,578.1 1388.6,569.1 1394,568.5 1399.2,573.1 1404.2,568.1 1409.6,571.1 1414.2,559 1419.6,582.1 1424.6,596.1 1430,605.1 1435.3,609.2 1440.3,583.1 1445.3,559 1450.7,557 1456.1,548 1461.3,554 1466.3,548.4 1471.7,552 1476.7,561 1481.8,559 1486.8,576.1 1492.2,571.1 1497.4,582.1 1500,588.1"/>
<polyline points="1142.1,648.3 1145,658.3 1150,668.3 1155.6,658.3 1160.6,645.2 1165.7,645.2 1171.1,638.2 1176.1,634.2 1181.5,616.2 1186.5,612.2 1191.7,622.2 1197.1,610.2 1202.1,601.1 1207.6,608.2 1212.6,610.2 1217.8,611.2 1222.6,626.2 1228.2,639.2 1233.2,639.6 1238.2,630.2 1243.2,621.2 1248.2,633.2 1253.7,633.8 1258.7,632.2 1263.9,610.2 1269.3,616.2 1274.7,642.2 1279.9,638.2 1284.7,634.2 1289.9,621.2 1295.3,611.2 1300.4,604.1 1305.4,592.1 1310.8,591.7 1316.4,592.1 1321,587.1 1326.4,618.2 1331.8,611.2 1337,610.6 1342,638.2 1347.5,660.3 1352.5,676.3 1357.5,686.3 1362.5,677.3 1367.9,680.3 1373.1,682.3 1378.1,704.4 1383.5,714.4 1388.6,708.4 1394,712.4 1399.2,720.4 1404.2,707.4 1409.6,710.4 1414.2,698.4 1419.6,704.4 1424.6,711.4 1430,728.4 1435.3,733.4 1440.3,718.4 1445.3,707.4 1450.7,703.4 1456.1,702.4 1461.3,698.4 1466.3,691.3 1471.7,684.3 1476.7,688.3 1481.8,686.3 1486.8,690.3 1492.2,679.3 1497.4,678.7 1500,678.7"/>
<polyline points="1140,658.3 1145,666.3 1150,680.3 1155.6,662.3 1160.6,655.3 1165.7,653.3 1171.1,638.2 1176.1,634.2 1181.5,627.2 1186.5,626.2 1191.7,640.2 1197.1,642.2 1202.1,637.2 1207.6,643.2 1212.6,643.2 1217.8,646.2 1222.6,634.2 1228.2,648.2 1233.2,662.3 1238.2,674.3 1243.2,667.3 1248.2,673.3 1253.7,674.3 1258.7,670.3 1263.9,656.3 1269.3,665.3 1274.7,671.3 1279.9,660.3 1284.7,654.3 1289.9,636.2 1295.3,616.2 1300.4,609.2 1304.7,593.8"/>
<polyline points="1140.7,659.9 1150,672.3 1160.6,652.2 1171.1,640.2 1176.1,633.2 1181.5,632.2 1186.5,642.2 1191.7,654.3 1197.1,657.3 1202.1,664.3 1207.6,675.3 1212.6,672.3 1217.8,673.9 1222.6,680.3 1228.2,698.4 1233.2,707.4 1238.2,716.4 1243.2,711.4 1248.2,721.4 1253.7,719.4 1258.7,717.4 1263.9,700.4 1269.3,711.4 1274.7,711.4 1279.9,699.4 1284.7,694.3 1289.9,678.3 1295.3,671.3 1300.4,667.3 1305.4,666.3 1310.8,667.3 1316.4,661.3 1321,656.3 1326.4,683.3 1331.8,686.3 1337,692.3 1342,702.4 1347.5,709.4 1352.5,710.8 1357.5,716.4 1362.5,714.4 1367.9,716 1373.1,714.4 1383.5,740.4"/>
<polyline points="1362.5,660.3 1367.9,668.3 1373.1,666.3 1378.1,695.3 1381.8,711.3"/>
<polyline points="1383.5,738.2 1388.6,732.4 1394,740.4"/>
<polyline points="1399.1,739.6 1404.2,712.4 1409.6,726.4 1414.2,710.4 1419.6,724.4 1425.2,740.2"/>
<polyline points="1442.7,740.4 1445.3,734.4 1450.7,729.4 1456.1,727.4 1461.3,727.4 1466.3,720.4 1471.7,716.4 1476.7,715.4 1481.8,714.8 1486.8,723.4 1492.2,716.4 1497.4,722.4 1500,721.4"/>
<polyline points="1440.3,694.3 1445.3,677.3 1450.7,666.3 1456.1,664.3 1461.3,665.3 1466.3,658.3 1471.7,655.3 1476.7,655.3 1481.8,652.2 1486.8,668.3 1492.2,660.3 1497.4,668.3 1500,670.3"/>
<polyline points="1150,784.3 1155.6,780.3 1160.6,776.3 1165.7,775.3 1171.1,765.3 1176.1,769.3 1181.5,760.3 1186.5,757.3 1191.7,772.3 1197.1,773.3 1202.1,774.3 1207.6,776.3 1212.6,778.3 1217.8,779.7 1222.6,781.3 1228.2,783.3 1233.2,788.3 1238.2,787.3 1243.2,784.3 1248.2,785.3 1253.7,786.9 1258.7,787.3 1263.9,774.3 1269.3,778.3 1274.7,783.9 1279.9,783.9 1284.7,766.3 1289.9,765.9 1295.3,762.3 1300.4,753.3 1305.4,761.3 1310.8,760.3 1316.4,758.3 1321,754.3 1326.4,760.3 1331.8,763.9 1337,763.3 1342,762.3 1347.5,772.3 1352.5,774.7 1357.5,776.3 1362.5,770.3 1367.9,780.3 1374.5,791.3 1378.1,788.3 1383.5,783.3 1388.6,770.3 1394,768.3 1399.2,776.3 1404.2,770.3 1409.6,770.3 1414.2,764.3 1419.6,774.3 1424.6,778.3 1430,784.3 1434.7,789.3 1440.3,783.3 1445.3,770.3 1450.7,769.3 1456.1,767.3 1461.3,765.3 1466.3,751.2 1471.7,752.2 1476.7,750.2 1481.8,746.2 1486.8,756.3 1492.2,747.2 1497.4,749.8 1500,750.2"/>
<polyline points="1373.1,714.4 1378.1,730.2 1383.5,738.2 1388.6,732.6 1394,740.2 1399.2,739.6 1402.6,716.2 1404.2,709.2 1409.6,720.2 1414.2,709.2 1419.6,724.2 1424.6,738.2 1430,755.3 1434.7,763.3 1440.3,748.2 1442.7,740.2"/>
<polyline points="1310,531.3 1315.6,524.3 1320.6,486.2 1325.7,458.1 1331.1,470.2 1336.1,472.2 1341.5,494.2 1346.5,503.2 1351.7,522.3 1357.1,520.3 1362.1,521.3 1367.6,540.3 1372.6,560.4 1377.8,570.4 1382.6,578.4 1388.2,568.4 1393.2,568.4 1398.2,572.8 1403.2,568 1408.2,571.4 1413.7,557.3 1418.7,578.4 1423.9,595.4 1429.3,602.4 1434.7,600.4 1439.9,578.4 1444.7,560.4 1449.9,557.3 1455.3,547.3 1460.4,554.3 1465.4,548.7 1470.8,552.3 1476.4,562.4 1481,559.4 1486.4,576.4 1491.8,571.4 1497,584.4 1502,592.4 1507.5,597.4 1512.5,578.4 1517.5,572.4 1522.5,544.3 1527.9,530.3 1533.1,548.3 1538.1,560.4 1543.5,548.3 1548.6,522.3 1554,538.3 1558.6,524.3 1564.6,480.2 1569.6,460.1 1574.2,417 1579.6,470.2 1584.6,458.1 1590,451.1 1595.3,498.2 1600.3,508.2 1605.3,496.2 1610.7,470.2 1616.1,484.2 1621.3,495.2 1626.3,496.2 1631.7,464.1 1636.7,456.1 1641.8,480.2 1646.8,508.2 1652.2,500.2 1657.4,504.2 1660,498.2"/>
<polyline points="1300.9,573.1 1305,560.4 1310,547.3 1315.6,538.3 1320.6,530.3 1325.7,548.3 1331.1,546.3 1336.1,552.3 1341.5,582.4 1346.5,590.4 1351.7,597.4 1355.4,600.2"/>
<polyline points="1462.5,601.3 1465.4,589.4 1470.8,577.4 1476.4,578.4 1481,577.4 1486.4,597.4 1488.7,599.9"/>
<polyline points="1488.9,599.9 1491.8,595.4 1497,591.4 1502,588.4 1507.5,592.4 1509.4,600.7"/>
<polyline points="1300.6,597.8 1305,592.4 1310,592.4 1315.6,592.4 1320.6,587.4 1323.1,600.4"/>
<polyline points="1413.3,601.3 1413.7,597.4 1414.7,600.9"/>
<polyline points="1558.2,599.5 1564.6,570.4 1569.6,540.3 1574.2,466.1 1576.6,520.3 1579.6,469.2 1584.6,468.2 1590,484.2 1595.3,520.3 1600.3,530.3 1605.3,520.3 1610.7,508.2 1616.1,470.2 1621.3,518.3 1626.3,508.2 1631.7,484.2 1636.7,469.2 1641.8,476.2 1646.8,520.3 1652.2,514.3 1657.4,528.3 1659.9,522.4"/>
<polyline points="1570.6,600.4 1574.2,500.2 1579.6,524.3 1584.6,525.3 1590,524.3 1595.3,556.3 1600.3,587.4 1605.3,582.4 1610.7,578.4 1616.1,572.4 1621.3,556.3 1626.3,550.3 1631.7,557.3 1636.7,554.3 1641.8,572.4 1646.8,588.4 1652.2,596.4 1657.8,599.4"/>
<polyline points="1499.9,588.1 1502.1,597.1 1507.2,602.1 1510.2,583.1 1512.8,578.1 1517.8,572.1 1522.8,546 1524.3,539.7"/>
<polyline points="1530.7,539.9 1533.2,549 1538.6,560 1543.6,548 1545.2,540"/>
<polyline points="1499.9,590.1 1502.1,588.1 1507.2,592.1 1512.8,614.2 1517.8,601.1 1522.8,600.1 1528.2,599.7 1533.2,614.2 1538.6,626.2 1543.6,612.2 1548.2,598.1 1554.3,610.2 1558.7,598.1 1564.3,566.1 1569.3,552 1572.8,540"/>
<polyline points="1560.1,680.4 1561.3,660.3 1564.3,660.3 1569.3,662.3 1573.3,606.1 1576.3,605.1 1579.9,623.2 1584.9,627.2 1589.9,619.2 1595.4,652.2 1600.4,664.3 1605.8,640.2 1610.8,624.2 1615.8,621.2 1621.4,609.2 1626.4,616.2 1631.4,620.6 1636.8,621.2 1642.1,636.2 1647.1,643.2 1652.1,635.2 1657.5,634.6 1662.5,617.2 1667.9,618.2 1673.1,621.2 1678.1,622.2 1683.6,628.2 1689,638.2 1693.6,632.2 1698.6,610.2 1703.6,591.1 1709,604.1 1714,593.1 1719.2,575.1 1724.6,584.1 1729.7,604.1 1734.7,593.1 1740.3,582.1 1745.7,566.1 1750.7,594.1 1755.7,602.1 1761.1,583.1 1766.1,589.1 1771.3,579.1 1776.4,582.1 1781.8,587.1 1786.8,598.1 1791.8,598.5"/>
<polyline points="1592.5,539.6 1595.4,570.1 1600.4,591.1 1605.8,584.1 1610.8,579.1 1615.8,576.1 1621.4,555 1626.4,550 1631.4,558 1636.8,554 1642.1,575.1 1647.1,591.1 1652.1,599.1 1657.5,600.1 1662.5,589.1 1667.9,586.1 1673.1,584.1 1678.1,587.1 1683.6,594.1 1689,608.2 1693.6,590.1 1698.6,574.1 1703.6,559 1709,600.1 1714,580.1 1719.2,550 1724.6,577.1 1729.7,602.1 1734.7,587.1 1740.3,575.1 1745.7,544 1750.7,570.1 1755.7,575.1 1761.1,567.1 1766.1,572.1 1771.3,559 1776.4,555 1781.8,559 1786.8,570.1 1791.8,570.1"/>
<polyline points="1576.3,605.1 1579.9,621.2 1584.9,610.2 1589.9,617.2 1595.4,668.3 1600.4,678.3 1605.8,677.3 1610.8,677.3 1615.8,673.3 1621.4,646.2 1626.4,651.2 1631.4,657.3 1636.8,665.3 1642.1,684.3 1647.1,701.4 1652.1,704.4 1657.5,696.3 1662.5,681.3 1667.9,682.7 1673.1,683.9 1678.1,687.3 1683.6,689.3 1689,698.4 1693.6,690.3 1698.6,658.3 1703.6,633.2 1709,653.3 1714,626.2 1719.2,601.1 1724.6,619.2 1729.7,632.2 1734.7,608.2 1740.3,592.1 1745.7,559 1750.7,581.1 1755.7,588.1 1761.1,578.1 1766.1,574.1 1771.3,560 1776.4,558 1781.8,561 1786.8,568.1 1790.5,572.3"/>
<polyline points="1499.9,678.7 1502.1,678.7 1507.2,674.3 1512.8,681.3 1517.8,668.3 1522.8,676.3 1528.2,684.3 1533.2,694.3 1538.6,704.4 1543.6,680.3 1548.2,648.2 1549.7,613.2 1551.3,648.2 1554.3,694.3 1558.7,702.4 1561.3,660.3"/>
<polyline points="1541.2,691.8 1548.2,670.3 1555.1,695.8"/>
<polyline points="1499.9,721.4 1502.1,720.8 1507.2,721.4 1512.8,729.4 1517.8,712.4 1522.8,720.4 1528.2,721.4 1533.2,729.4 1538.6,735.4 1543.6,716.4 1548.2,686.3 1554.3,718.4 1558.7,714.4 1560.1,680.2"/>
<polyline points="1659.9,498.3 1662.5,488.3 1667.9,485.3 1673.1,497.3 1678.1,499.3 1683.6,516.4 1689,526.4 1693.6,496.3 1698.6,458.2 1703.6,434.2 1709,460.2 1714,445.2 1719.2,432.2 1724.6,452.2 1729.7,458.2 1734.7,440.2 1740.3,416.1 1745.7,376.1 1750.7,412.1 1755.7,438.2 1761.1,421.2 1766.1,434.2 1771.3,425.2 1776.4,393.1 1781.8,389.1 1786.8,402.5 1791.8,403.7"/>
<polyline points="1660,524.3 1662.5,496.3 1667.9,508.4 1673.1,493.3 1678.1,510.4 1683.6,518.4 1689,534.4 1693.6,535.4 1698.6,494.3 1703.6,476.3 1709,497.3 1714,500.3 1719.2,498.3 1724.6,496.3 1729.7,528.4 1734.7,500.3 1740.3,498.3 1745.7,481.3 1750.7,492.3 1755.7,515.4 1761.1,492.3 1766.1,492.3 1771.3,483.3 1776.4,501.3 1781.8,516.4 1786.8,524.4 1791.8,526.4"/>
<polyline points="1499.9,750.2 1502.1,749.2 1507.2,751.2 1512.8,765.3 1517.8,764.3 1522.8,770.3 1528.2,774.7 1533.2,777.3 1538.6,783.3 1543.6,775.3 1548.2,767.3 1554.3,771.3 1558.7,771.9 1564.3,749.2 1569.3,738.2 1574.3,688.1 1579.9,702.1 1584.9,671.1 1589.9,677.1 1595.4,706.1 1600.4,712.2 1605.8,713.2 1610.8,712.6 1615.8,714.2 1621.4,702.5 1626.4,702.1 1631.4,698.1 1636.8,698.1 1642.1,709.2 1647.1,716.2 1652.1,718.2 1657.5,720.6 1662.5,708.2 1667.9,710.2 1673.1,717.2 1678.1,723.2 1683.6,731.2 1688.6,749.8 1693.6,747.2 1698.6,728.2 1703.6,722.2 1709,734.2 1714,725.2 1719.2,718.2 1724.6,715.8 1729.7,726.2 1734.7,722.6 1740.3,716.2 1745.7,704.1 1750.7,712.6 1755.7,714.6 1761.1,719.8 1766.1,717.8 1771.3,718.6 1776.4,717.8 1781.8,715.4 1786.8,725.2 1791.8,721.2"/>
</g>
<g stroke="#000" stroke-width="2.2">
<line x1="465.8" x2="465.8" y1="199" y2="572.5"/>
<line x1="1557.6" x2="1557.6" y1="366" y2="663"/>
<line x1="1689.8" x2="1689.8" y1="299" y2="628"/>
</g>
<g fill="none" stroke="#5050fa" stroke-width="4.3" stroke-linejoin="miter" stroke-linecap="butt">
<polyline points="130.5,532.6 135.8,529.1 141,536.6 146.2,536.1 151.6,555.1 156.6,528.6 161.6,526.6 167.1,527.6 171.7,496.3 177.1,502.5 182.1,509 187.6,521.5 193,512.5 198.2,538.1 203.2,553.1 208.2,562.1 213.2,570.2 218.7,590.7 223.7,562.1 228.7,562.6 234.2,565.6 239.3,560.1 244.8,564.1 248.8,527.6 251.3,527.6 254.5,572.2 259.3,567.7 264.8,562.6 270.3,551.1 276.3,562.1 280.8,575.7 285.9,577.2 291.4,584.2 294,596.2 297.4,608.2 301.4,619.3 306.4,620.7 311.8,615.9 314,602.2 316.5,588.2 322,581.7 327.6,587.2 332.6,572.2 337.6,579.2 343.1,571.7 348.1,561.1 353.1,551.1 358.1,531.1 363.4,518 368.6,530.1 374.2,539.1 379.2,525.1 384.7,525.9 389.2,555.6 394.2,568.2 399.2,576.7 404.7,580.2 409.7,577.7 415.2,582.7 420.3,587.2 425.8,589.7 431.3,586.7 431.3,590 436.3,599 446.3,611 451.8,605 455.3,590 456.8,577.2 461.8,572.7 466.9,574.2 468.4,574.7 470,530.2 473,495.1 476.5,440 482,399.1 488.1,417.2 493.1,454.1 498.6,420.2 501.1,370.1 503.1,346.5 504.6,346.5 509.1,410.2 513.6,443 519.1,434 524.1,469.1 529.7,472.1 534.2,432 540.2,430 544.2,458.1 549.7,486.1 555.2,501.2 560.2,485.1 565.2,481.1 570.7,487.6 575.3,507.2 580.8,497.1 586.3,472.1 591.8,473.6 596.8,488.1 601.3,522.2 608.3,527.7 611.8,575.2 617.4,583.2 622,566.1 627.4,562.1 632.8,573.2 638,543.1 643.5,550.1 647.5,521 649.5,521 653.5,540.1 658.5,519 663.5,507 668.5,532.1 674.1,551.1 678.9,547.1 684.5,550.1 689.6,520 695,535.1 700,535.1 705.6,543.1 710.6,566.1 715.6,569.2 720.6,573.2 725.6,590.2 730.6,570.2 736.3,553.1 741.7,555.1 746.7,539.1 751.7,552.1 756.7,560.1 762.1,582.2 767.1,563.1 772.7,565.1 777.8,572.2 782.8,557.1 788.8,561.1 793.8,548.1 800,536.1 803,540.1 808.4,567.1 814.1,572.2 819.1,553.1 824.5,561.1 829.7,575.2 834.9,589.2 840.1,580.2 845.1,568.2 850.1,565.1 855.1,560.1 860.6,576.2 865.8,579.2 871.2,582.2 876.2,578.2 881.2,584.2 886.6,597.8 891.8,599.2 896.2,601.2 902.2,609.2 907.3,610.2 912.3,609.2 917.3,593.2 922.7,587.2 927.9,599.2 932.7,596.2 938.3,596.6 943.3,608.2 948.4,609.2 954,617.3 959.4,618.3 964.4,625.3 969.4,630.3 974.4,631.3 979.4,629.3 984.4,617.3 990,617.3 994.9,620.3 1000.5,612.7 1005.5,612.7 1010.5,609.2 1015.9,610.2 1021.5,615.3 1026.5,602.2 1031.5,589.2 1036.5,589.2 1042.2,600.2 1047.2,612.2 1052.2,608.2 1057.6,611.2 1062.6,625.3 1068.2,638.3 1073,647.3 1078.2,638.3 1082.7,605.2 1088.7,620.3 1093.7,640.3 1098.7,651.3 1103.7,647.3 1108.7,649.3 1114.1,650.3 1119.3,648.7 1124.3,651.9 1129.8,633.3 1134.8,634.3 1139.8,635.9 1144.8,645.3 1150,658.4 1155.6,648.2 1160.6,638.2 1165.7,634.2 1171.1,624.2 1176.1,608.2 1181.5,603.7 1186.5,603.1 1191.7,618.2 1197.1,618.6 1202.1,617.8 1207.6,630.2 1212.6,627.2 1217.8,631.2 1222.6,635.2 1228.2,647.2 1233.2,658.3 1238.2,658.7 1243.2,649.8 1248.2,665.3 1253.7,670.3 1258.7,668.3 1263.9,650.2 1269.3,660.3 1274.7,664.7 1279.9,655.3 1284.7,650.2 1289.9,637.8 1295.3,629.2 1300.4,625.2 1305.4,620.2 1310.8,615.2 1316.4,611.2 1321,599.1 1326.4,614.2 1331.8,616.2 1337,619.2 1342,639.2 1347.5,649.2 1352.5,656.3 1357.5,660.7 1362.5,659.3 1367.9,668.3 1373.1,673.3 1378.1,683.3 1383.5,689.3 1388.6,681.9 1394,684.3 1399.2,688.3 1404.2,673.3 1409.6,677.3 1414.2,664.3 1419.6,678.3 1424.6,688.3 1430,703.4 1435.3,709.4 1440.3,694.3 1445.3,677.3 1450.7,672.3 1456.1,669.3 1461.3,669.9 1466.3,661.3 1471.7,657.3 1476.7,659.3 1481.8,655.9 1486.8,669.3 1492.2,661.9 1497.4,666.3 1500,667.3 1502.1,667.9 1507.2,668.7 1512.8,675.3 1517.8,662.3 1522.8,662.3 1528.2,661.3 1533.2,672.3 1538.6,682.3 1543.6,664.3 1548.2,643.2 1550.3,643.2 1554.3,664.3 1558.7,663.7 1564.3,620.2 1569.3,604.1 1572.9,532.4 1575.7,532.4 1579.9,578.1 1584.9,559 1589.9,562 1595.4,602.1 1600.4,616.2 1605.8,602.1 1610.8,590.1 1615.8,590.1 1621.4,587.7 1626.4,587.1 1631.4,581.1 1636.8,577.1 1642.1,597.1 1647.1,615.8 1652.1,612.2 1657.5,616.2 1662.5,596.1 1667.9,598.1 1673.1,600.1 1678.1,604.1 1683.6,611.2 1689,627.2 1693.6,616.2 1698.6,590.1 1703.6,568.1 1705.2,568.1 1709,592.1 1714,578.1 1719.2,562 1724.6,571.1 1729.7,590.1 1734.7,576.1 1740.3,563.1 1745.7,538 1750.7,556 1755.7,571.1 1761.1,560 1766.1,563.1 1771.3,554 1776.4,550.4 1781.8,553.6 1786.8,564.1 1791.8,565.7"/>
</g>
<line x1="936.6" x2="978.2" y1="415.4" y2="415.4" stroke="#4139e0" stroke-width="4.1"/>
</svg>

<div class="abs yl" style="top:157px">16</div>
<div class="abs yl" style="top:260px">14</div>
<div class="abs yl" style="top:363px">12</div>
<div class="abs yl" style="top:465.5px">10</div>
<div class="abs yl" style="top:568px">8</div>
<div class="abs yl" style="top:671px">6</div>

<div class="abs xl" style="left:188.5px">Jan</div>
<div class="abs xl" style="left:297.3px">Feb</div>
<div class="abs xl" style="left:406px">Mar</div>
<div class="abs xl" style="left:514.8px">Apr</div>
<div class="abs xl" style="left:623.6px">May</div>
<div class="abs xl" style="left:732.4px">Jun</div>
<div class="abs xl" style="left:841.1px">Jul</div>
<div class="abs xl" style="left:949.9px">Aug</div>
<div class="abs xl" style="left:1058.7px">Sep</div>
<div class="abs xl" style="left:1167.4px">Oct</div>
<div class="abs xl" style="left:1276.2px">Nov</div>
<div class="abs xl" style="left:1385px">Dec</div>
<div class="abs xl" style="left:1493.8px">Jan</div>
<div class="abs xl" style="left:1602.5px">Feb</div>
<div class="abs xl" style="left:1731.3px;width:60px">Mar</div>

<div class="abs ann" style="right:1335px;top:196.5px;letter-spacing:0.4px">&#8216;Liberation<br>Day&#8217;</div>
<div class="abs ann" style="right:246.3px;top:360.5px"><span style="letter-spacing:-0.6px">Japanese</span><br><span style="letter-spacing:0.3px">intervention</span><br><span style="letter-spacing:0.1px">reports</span></div>
<div class="abs ann" style="right:113px;top:293px">Gulf War 3.0</div>
<div id="avg" class="abs" style="left:989.5px;top:401px;font-size:26px;letter-spacing:0.5px;-webkit-text-stroke:0.5px #111;">Average</div>

<div class="abs foot" style="top:901.7px;letter-spacing:-0.13px">*EURUSD, USDJPY, GBPUSD, USDCNY, AUDUSD, USDCAD, USDCHF</div>
<div class="abs foot" style="top:925.8px;letter-spacing:0.42px">Sources: Bloomberg</div>
<div class="abs foot" style="top:949.8px;letter-spacing:0.15px">Chart: Karl Schamotta, Corpay Currency Research</div>
<div id="logo" class="abs">Corpay</div>
<svg width="1796" height="1000" viewBox="0 0 1796 1000" style="pointer-events:none"><path d="M1774.3 928.3 L1779.3 916.8 L1783.7 916.8 L1788.8 928.3 L1784.2 928.3 L1781.5 922.3 L1778.9 928.3 Z" fill="#c01f4f"/></svg>
</body></html>
